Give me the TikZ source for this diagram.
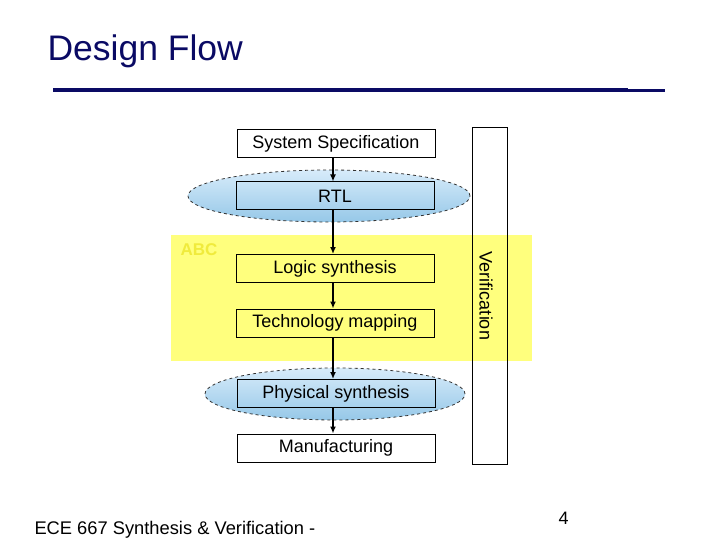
\documentclass[tikz,border=0pt]{standalone}
\usepackage{fontspec}
\setmainfont{Liberation Sans}
\usetikzlibrary{shapes.geometric,arrows.meta}
\definecolor{navy}{RGB}{10,10,100}
\definecolor{yel}{RGB}{255,255,125}
\definecolor{abc}{RGB}{240,235,60}
\definecolor{blueT}{RGB}{215,235,250}
\definecolor{blueB}{RGB}{150,200,232}
\tikzset{
  stepbox/.style={draw=black, line width=1pt, minimum width=198pt, minimum height=28pt, inner sep=0pt, font=\fontsize{18}{20}\selectfont},
  oval/.style={ellipse, draw=black!80, dashed, line width=0.8pt, top color=blueT, bottom color=blueB, inner sep=0pt},
  flow/.style={-{Latex[length=7pt,width=6pt]}, line width=1.5pt}
}
\begin{document}
\begin{tikzpicture}[x=1pt,y=-1pt]
\useasboundingbox (0,0) rectangle (720,540);
% title
\node[anchor=west, text=navy, font=\fontsize{35.5}{40}\selectfont] (title) at (44,51) {Design Flow};
\draw[navy, line width=4pt] (53,90) -- (628,90);
\draw[navy, line width=2.5pt] (628,90.7) -- (665,90.7);
% yellow band
\fill[yel] (171,235) rectangle (532,361);
\node[anchor=west, text=abc, font=\fontsize{17}{18}\selectfont\bfseries] (abc) at (177,250) {ABC};
% verification
\node[draw=black, line width=1pt, minimum width=35pt, minimum height=337pt, inner sep=0pt] (verif) at (489.5,296) {};
\node[rotate=-90, font=\fontsize{18}{20}\selectfont] (veriftext) at (486,296) {Verification};
% ellipses
\node[oval, minimum width=282pt, minimum height=52pt] (rtlE) at (329,196) {};
\node[oval, minimum width=260pt, minimum height=52pt] (physE) at (335,394) {};
% boxes
\node[stepbox, fill=white] (spec) at (336,144) {System Specification};
\node[stepbox] (rtl) at (335,196) {RTL};
\node[stepbox] (logic) at (335,268.5) {Logic synthesis};
\node[stepbox] (tech) at (335,323) {Technology mapping};
\node[stepbox] (phys) at (336,393.5) {Physical synthesis};
\node[stepbox, fill=white] (manu) at (336,448) {Manufacturing};
% arrows
\draw[flow] (spec.south -| 333,0) -- (rtl.north -| 333,0);
\draw[flow] (rtl.south -| 333,0) -- (logic.north -| 333,0);
\draw[flow] (logic.south -| 333,0) -- (tech.north -| 333,0);
\draw[flow] (tech.south -| 333,0) -- (phys.north -| 333,0);
\draw[flow] (phys.south -| 333,0) -- (manu.north -| 333,0);
% footer
\node[anchor=west, font=\fontsize{18.3}{20}\selectfont] (footer) at (31,530) {ECE 667 Synthesis \& Verification -};
\node[font=\fontsize{18}{20}\selectfont] (page) at (563.5,518) {4};
\end{tikzpicture}
\end{document}
